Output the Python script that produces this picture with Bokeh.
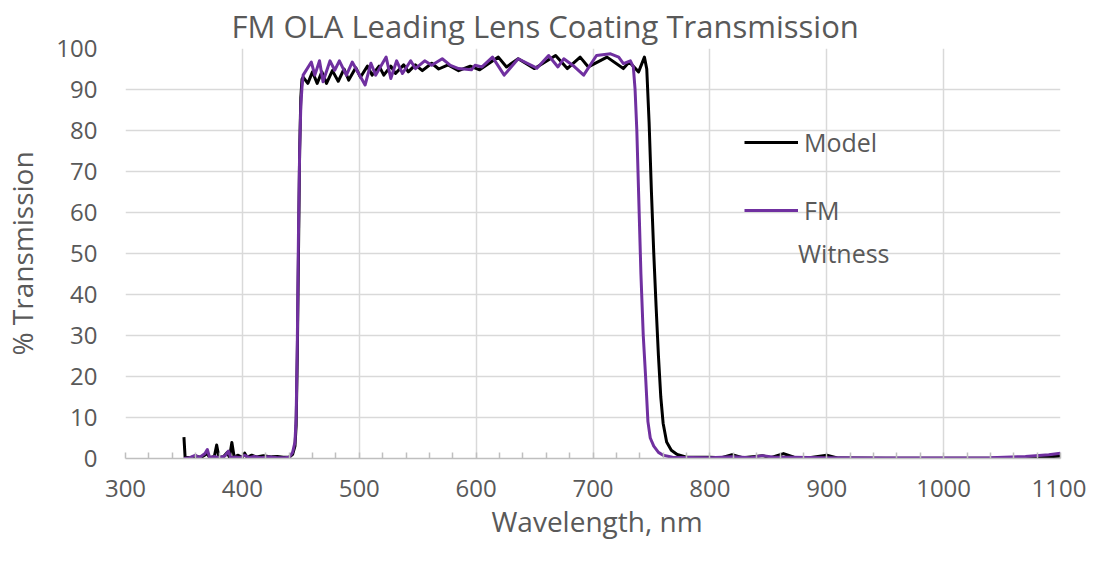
from bokeh.plotting import figure
from bokeh.models import Range1d, SingleIntervalTicker, Legend, LegendItem, Label, Title
from bokeh.embed import file_html
from bokeh.resources import INLINE

TITLE = "FM OLA Leading Lens Coating Transmission"
X_LABEL = "Wavelength, nm"
Y_LABEL = "% Transmission"
SERIES = ["Model", "FM", "Witness"]

model_wl = [350, 351, 355, 360, 365, 370, 372, 376, 378, 380,
            384, 387, 389, 391, 393, 396, 400, 402, 404, 408,
            412, 418, 425, 430, 435, 440, 443, 445, 446, 447,
            448, 449, 450, 451, 452, 456, 460, 464, 468, 472,
            477, 482, 487, 491, 497, 501, 507, 511, 517, 521,
            527, 531, 538, 542, 548, 554, 562, 568, 576, 585,
            595, 603, 619, 626, 636, 650, 668, 678, 689, 696,
            712, 726, 731, 739, 744, 746, 748, 750, 752, 754,
            756, 758, 760, 763, 767, 772, 780, 800, 810, 819,
            828, 845, 852, 863, 872, 885, 900, 910, 950, 1000,
            1050, 1080, 1100]
model_t = [5.2, 0.3, 0.2, 0.5, 0.3, 1.2, 0.2, 0.5, 3.3, 0.2,
           0.5, 1.5, 0.3, 3.9, 0.3, 0.8, 0.3, 1.3, 0.3, 0.8,
           0.4, 0.7, 0.4, 0.5, 0.3, 0.3, 1.0, 3.0, 8.0, 25.0,
           50, 75, 88, 92.5, 93.0, 91.5, 94.3, 91.5, 94.3, 91.5,
           94.6, 92.0, 95.0, 92.3, 95.3, 93.0, 95.7, 93.5, 95.7, 93.5,
           95.7, 93.9, 96.0, 94.3, 96.0, 94.6, 96.4, 95.0, 96.0, 94.6,
           95.7, 94.8, 97.9, 95.5, 97.5, 95.1, 98.3, 95.1, 97.9, 95.5,
           97.9, 95.1, 96.7, 94.3, 97.9, 95.0, 82, 65, 50, 37,
           25, 15, 8.6, 4.0, 2.0, 1.0, 0.3, 0.3, 0.2, 0.9,
           0.2, 0.7, 0.2, 1.2, 0.3, 0.2, 0.8, 0.1, 0.05, 0.05,
           0.05, 0.2, 0.6]

fm_wl = [350, 355, 360, 363, 368, 370, 372, 376, 380, 385,
         388, 390, 394, 398, 402, 406, 410, 416, 422, 430,
         436, 440, 443, 445, 446, 447, 448, 449, 450, 451,
         452, 459, 462, 466, 469, 475, 479, 483, 489, 494,
         505, 510, 514, 523, 527, 532, 537, 544, 548, 556,
         562, 571, 578, 585, 596, 599, 605, 614, 624, 636,
         652, 662, 670, 675, 684, 692, 703, 715, 722, 726,
         732, 734.5, 736, 737.5, 739, 741, 743, 745, 747, 749,
         752, 756, 760, 768, 800, 820, 835, 845, 855, 870,
         900, 950, 1000, 1040, 1070, 1090, 1100]
fm_t = [0.0, 0.2, 0.8, 0.2, 1.2, 2.2, 0.2, 0.5, 0.2, 0.6,
        1.8, 0.2, 0.4, 0.2, 0.8, 0.2, 0.5, 0.2, 0.4, 0.2,
        0.2, 0.3, 1.5, 4.0, 10, 28, 55, 75, 86, 90.5,
        93.5, 96.7, 93.5, 97.0, 91.9, 97.0, 94.7, 97.0, 93.5, 96.7,
        91.1, 96.4, 93.5, 97.9, 92.7, 97.0, 93.9, 97.0, 95.1, 97.0,
        95.9, 97.5, 95.9, 95.1, 94.8, 95.9, 95.5, 97.9, 93.5, 97.5,
        95.2, 98.3, 95.5, 97.5, 95.6, 93.5, 98.3, 98.7, 97.9, 96.3,
        97.0, 95.5, 90, 80, 65, 45, 30, 20, 9, 5,
        3.0, 1.5, 0.8, 0.3, 0.2, 0.4, 0.2, 0.7, 0.3, 0.3,
        0.2, 0.1, 0.1, 0.2, 0.5, 0.9, 1.3]

FONT = "Open Sans"
GREY_TXT = "#595959"
GRID = "#d9d9d9"

p = figure(width=1086, height=551, output_backend="svg", toolbar_location=None,
           x_range=Range1d(300, 1100), y_range=Range1d(0, 100),
           min_border_left=116, min_border_right=26, min_border_top=38,
           min_border_bottom=93)

p.title.text = TITLE
p.title.align = "left"
p.title.offset = 106
p.title.standoff = 4
p.title.text_font = FONT
p.title.text_font_size = "31px"
p.title.text_font_style = "normal"
p.title.text_color = GREY_TXT

p.outline_line_color = None
p.background_fill_color = "white"
p.border_fill_color = "white"

p.xaxis.ticker = SingleIntervalTicker(interval=100, num_minor_ticks=5)
p.yaxis.ticker = SingleIntervalTicker(interval=10, num_minor_ticks=0)

for ax in (p.xaxis, p.yaxis):
    ax.major_label_text_font = FONT
    ax.major_label_text_font_size = "24px"
    ax.major_label_text_color = GREY_TXT
    ax.axis_label_text_font = FONT
    ax.axis_label_text_font_size = "28px"
    ax.axis_label_text_font_style = "normal"
    ax.axis_label_text_color = GREY_TXT
    ax.major_tick_line_color = None

# x-axis title drawn as a Title in the bottom panel (tighter box than an axis label)
x_title = Title(text=X_LABEL, align="left", offset=366, standoff=0,
                text_font=FONT, text_font_size="28px", text_font_style="normal",
                text_color=GREY_TXT)
p.add_layout(x_title, "below")

p.yaxis.axis_label = Y_LABEL
p.xaxis.axis_line_color = "#bfbfbf"
p.xaxis.axis_line_width = 1.5
p.xaxis.minor_tick_line_color = "#bfbfbf"
p.xaxis.minor_tick_line_width = 1.5
p.xaxis.minor_tick_in = 6
p.xaxis.minor_tick_out = 0
p.xaxis.major_label_standoff = 15
p.yaxis.axis_line_color = None
p.yaxis.minor_tick_line_color = None
p.yaxis.major_label_standoff = 22
p.yaxis.axis_label_standoff = 12

p.xgrid.grid_line_color = GRID
p.ygrid.grid_line_color = GRID
p.xgrid.grid_line_width = 1.5
p.ygrid.grid_line_width = 1.5

r_model = p.line(model_wl, model_t, line_color="black", line_width=3, line_join="round")
r_fm = p.line(fm_wl, fm_t, line_color="#7030A0", line_width=3, line_join="round")

common = dict(padding=0, margin=0, glyph_width=54, glyph_height=30,
              label_height=30, label_standoff=6, label_text_font=FONT,
              label_text_font_size="25px", label_text_color=GREY_TXT,
              border_line_color=None, background_fill_alpha=0)
leg1 = Legend(items=[LegendItem(label=SERIES[0], renderers=[r_model])],
              location=(619, 299), **common)
leg2 = Legend(items=[LegendItem(label=SERIES[1], renderers=[r_fm])],
              location=(619, 231), **common)
p.add_layout(leg1, "center")
p.add_layout(leg2, "center")

p.add_layout(Label(x=875.4, y=50.2, text=SERIES[2], text_baseline="middle",
                   text_align="left", text_font=FONT, text_font_size="25px",
                   text_color=GREY_TXT))

open("out.html", "w").write(file_html(p, INLINE))
